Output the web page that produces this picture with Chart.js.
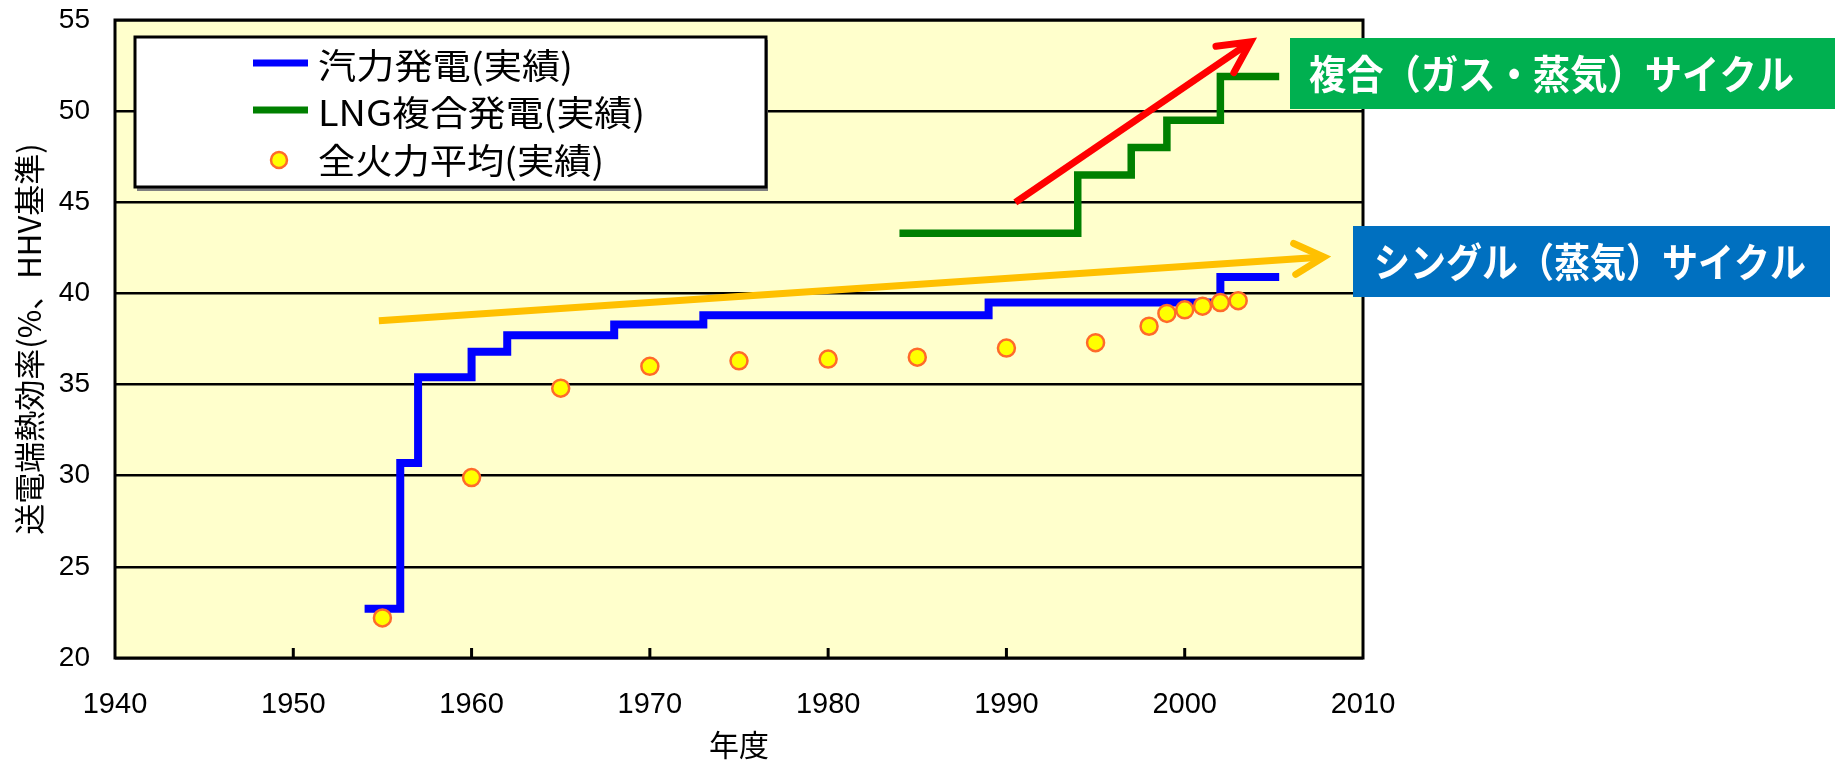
<!DOCTYPE html>
<html>
<head>
<meta charset="utf-8">
<script src="https://cdn.jsdelivr.net/npm/chart.js@4/dist/chart.umd.min.js"></script>
<style>
  html, body { margin: 0; padding: 0; background: #ffffff; overflow: hidden; }
  canvas { display: block; }
</style>
</head>
<body>
<canvas id="chart" width="1846" height="760"></canvas>
<script>
// ---- data ----
const xTickLabels = ['1940', '1950', '1960', '1970', '1980', '1990', '2000', '2010'];
const yTickLabels = ['20', '25', '30', '35', '40', '45', '50', '55'];

const seriesNames = ['汽力発電(実績)', 'LNG複合発電(実績)', '全火力平均(実績)'];

// steam-turbine plants (step line)
const steamYears = [1954, 1956, 1957, 1960, 1962, 1968, 1973, 1989, 2002, 2005.3];
const steamEff   = [22.7, 30.7, 35.4, 36.8, 37.7, 38.3, 38.8, 39.5, 40.9, 40.9];

// LNG combined-cycle plants (step line)
const lngYears = [1984, 1994, 1997, 1999, 2002, 2005.3];
const lngEff   = [43.3, 46.5, 48.0, 49.5, 51.9, 51.9];

// average of all thermal plants
const avgYears = [1955, 1960, 1965, 1970, 1975, 1980, 1985, 1990, 1995, 1998, 1999, 2000, 2001, 2002, 2003];
const avgEff   = [22.2, 29.9, 34.8, 36.0, 36.3, 36.4, 36.5, 37.0, 37.3, 38.2, 38.9, 39.1, 39.3, 39.5, 39.6];

// trend arrows
const singleArrowYears = [1954.8, 2007.8];
const singleArrowEff   = [38.5, 42.0];
const comboArrowYears  = [1990.5, 2003.7];
const comboArrowEff    = [45.0, 53.8];

// callout captions
const cycleLabels = ['複合（ガス・蒸気）サイクル', 'シングル（蒸気）サイクル'];

const xyPairs = (xs, ys) => xs.map((x, i) => ({ x: x, y: ys[i] }));

const CJK = '"Noto Sans CJK JP", "Noto Sans CJK SC", sans-serif';
const LATIN = '"Liberation Sans", Arial, sans-serif';

function fitText(ctx, text, x, y, width, font, color) {
  ctx.save();
  ctx.font = font;
  ctx.fillStyle = color;
  ctx.textAlign = 'left';
  ctx.textBaseline = 'middle';
  const w = ctx.measureText(text).width;
  ctx.translate(x, y);
  ctx.scale(width / w, 1);
  ctx.fillText(text, 0, 0);
  ctx.restore();
}

// plot background, frame and inward x ticks
const framePlugin = {
  id: 'framePlugin',
  beforeDraw(chart) {
    const { ctx, chartArea: a } = chart;
    ctx.save();
    ctx.fillStyle = '#FFFFCC';
    ctx.fillRect(a.left, a.top, a.right - a.left, a.bottom - a.top);
    ctx.restore();
  },
  beforeDatasetsDraw(chart) {
    const { ctx, chartArea: a, scales } = chart;
    ctx.save();
    ctx.strokeStyle = '#000';
    ctx.lineWidth = 3;
    ctx.strokeRect(a.left, a.top, a.right - a.left, a.bottom - a.top);
    ctx.beginPath();
    scales.x.ticks.forEach((t, i) => {
      if (i === 0 || i === scales.x.ticks.length - 1) return;
      const px = scales.x.getPixelForValue(t.value);
      ctx.moveTo(px, a.bottom);
      ctx.lineTo(px, a.bottom - 10);
    });
    ctx.stroke();
    ctx.restore();
  }
};

// open chevron heads on the trend arrows
const arrowPlugin = {
  id: 'arrowPlugin',
  afterDatasetsDraw(chart) {
    const { ctx } = chart;
    chart.data.datasets.forEach((ds, i) => {
      if (!ds.arrowHead) return;
      const pts = chart.getDatasetMeta(i).data;
      const p0 = pts[pts.length - 2], p1 = pts[pts.length - 1];
      const ang = Math.atan2(p0.y - p1.y, p0.x - p1.x);
      const len = ds.arrowHead.length, spread = ds.arrowHead.spread * Math.PI / 180;
      ctx.save();
      ctx.strokeStyle = ds.borderColor;
      ctx.lineWidth = ds.borderWidth;
      ctx.lineCap = 'round';
      ctx.lineJoin = 'miter';
      ctx.beginPath();
      ctx.moveTo(p1.x + len * Math.cos(ang + spread), p1.y + len * Math.sin(ang + spread));
      ctx.lineTo(p1.x, p1.y);
      ctx.lineTo(p1.x + len * Math.cos(ang - spread), p1.y + len * Math.sin(ang - spread));
      ctx.stroke();
      ctx.restore();
    });
  }
};

// boxed legend inside the plot and the two cycle callouts
const notesPlugin = {
  id: 'notesPlugin',
  afterDraw(chart) {
    const { ctx } = chart;
    const ds = chart.data.datasets;
    ctx.save();
    // legend box with shadow
    ctx.fillStyle = '#808080';
    ctx.fillRect(137, 40, 631, 151);
    ctx.fillStyle = '#ffffff';
    ctx.fillRect(135, 37, 631, 150);
    ctx.strokeStyle = '#000';
    ctx.lineWidth = 3;
    ctx.strokeRect(135, 37, 631, 150);

    const rows = [63, 110, 160];
    // line samples
    [0, 1].forEach(k => {
      ctx.strokeStyle = ds[k].borderColor;
      ctx.lineWidth = 7;
      ctx.beginPath();
      ctx.moveTo(253, rows[k]);
      ctx.lineTo(308, rows[k]);
      ctx.stroke();
    });
    // marker sample
    ctx.beginPath();
    ctx.arc(279, rows[2], 8, 0, Math.PI * 2);
    ctx.fillStyle = ds[2].backgroundColor;
    ctx.fill();
    ctx.lineWidth = 2.5;
    ctx.strokeStyle = ds[2].borderColor;
    ctx.stroke();

    const textWidths = [255, 327, 286];
    const textRows = [66, 112.5, 161];
    seriesNames.forEach((name, k) => {
      fitText(ctx, name, 318, textRows[k], textWidths[k], '35px ' + CJK, '#000');
    });

    // callouts
    ctx.fillStyle = '#00B050';
    ctx.fillRect(1290, 38, 545, 71);
    fitText(ctx, cycleLabels[0], 1309, 74, 485, 'bold 40px ' + CJK, '#ffffff');

    ctx.fillStyle = '#0070C0';
    ctx.fillRect(1353, 226, 477, 71);
    fitText(ctx, cycleLabels[1], 1374, 262, 432, 'bold 40px ' + CJK, '#ffffff');
    ctx.restore();
  }
};

new Chart(document.getElementById('chart'), {
  type: 'scatter',
  data: {
    datasets: [
      {
        label: seriesNames[0],
        data: xyPairs(steamYears, steamEff),
        showLine: true,
        stepped: true,
        borderColor: '#0000FF',
        borderWidth: 8,
        borderCapStyle: 'butt',
        borderJoinStyle: 'miter',
        pointRadius: 0,
        order: 4
      },
      {
        label: seriesNames[1],
        data: xyPairs(lngYears, lngEff),
        showLine: true,
        stepped: true,
        borderColor: '#008000',
        borderWidth: 7.5,
        borderCapStyle: 'butt',
        borderJoinStyle: 'miter',
        pointRadius: 0,
        order: 3
      },
      {
        label: seriesNames[2],
        data: xyPairs(avgYears, avgEff),
        showLine: false,
        backgroundColor: '#FFFF00',
        borderColor: '#FF6A2A',
        borderWidth: 2.5,
        pointRadius: 8.5,
        order: 2
      },
      {
        label: 'single',
        data: xyPairs(singleArrowYears, singleArrowEff),
        showLine: true,
        borderColor: '#FFC000',
        borderWidth: 7,
        borderCapStyle: 'butt',
        pointRadius: 0,
        arrowHead: { length: 33, spread: 28 },
        order: 1
      },
      {
        label: 'combined',
        data: xyPairs(comboArrowYears, comboArrowEff),
        showLine: true,
        borderColor: '#FF0000',
        borderWidth: 7,
        borderCapStyle: 'butt',
        pointRadius: 0,
        arrowHead: { length: 35, spread: 27 },
        order: 0
      }
    ]
  },
  options: {
    responsive: false,
    animation: false,
    devicePixelRatio: 1,
    layout: { padding: { left: 0, right: 483, top: 20, bottom: 0 } },
    plugins: {
      legend: { display: false },
      tooltip: { enabled: false }
    },
    scales: {
      x: {
        type: 'linear',
        min: 1940,
        max: 2010,
        grid: { display: false, drawTicks: false },
        border: { display: false },
        ticks: {
          stepSize: 10,
          autoSkip: false,
          maxRotation: 0,
          padding: 30,
          color: '#000',
          font: { family: LATIN, size: 29 },
          callback: (v, i) => xTickLabels[i]
        },
        title: {
          display: true,
          text: '年度',
          color: '#000',
          font: { family: CJK, size: 30, lineHeight: 1 },
          padding: { top: 0, bottom: 0 }
        },
        afterFit: s => { s.height = 102; s.paddingLeft = 0; s.paddingRight = 0; }
      },
      y: {
        type: 'linear',
        min: 20,
        max: 55,
        grid: { color: '#000', lineWidth: 2.5, drawTicks: false },
        border: { display: false },
        ticks: {
          stepSize: 5,
          autoSkip: false,
          padding: 25,
          color: '#000',
          font: { family: LATIN, size: 28 },
          callback: (v, i) => yTickLabels[i]
        },
        title: {
          display: true,
          text: '送電端熱効率(%、HHV基準)',
          color: '#000',
          font: { family: CJK, size: 31, lineHeight: 1 },
          padding: { top: 14, bottom: 0 }
        },
        afterFit: s => { s.width = 115; s.paddingTop = 0; s.paddingBottom = 0; }
      }
    }
  },
  plugins: [framePlugin, arrowPlugin, notesPlugin]
});
</script>
</body>
</html>
